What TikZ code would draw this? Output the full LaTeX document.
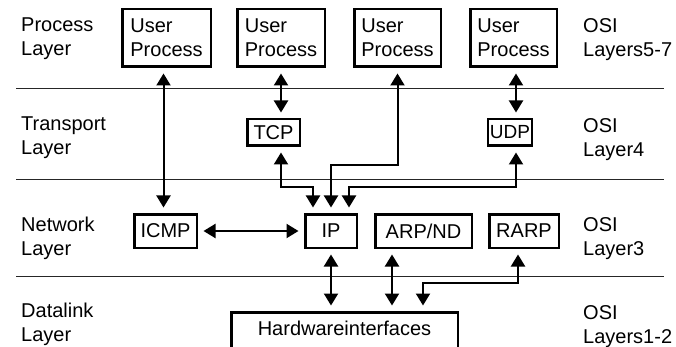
\documentclass[tikz,border=0pt]{standalone}
\usepackage{fontspec}
\setmainfont{Liberation Sans}
\usetikzlibrary{arrows.meta,calc}
\tikzset{
  box/.style={draw, line width=2.5pt, inner sep=0pt, align=left},
  con/.style={line width=2pt, {Triangle[length=12pt,width=14pt]}-{Triangle[length=12pt,width=14pt]}, shorten <=5.5pt, shorten >=5.5pt},
  sepline/.style={line width=1pt, black!85},
  lbl/.style={anchor=north west, inner sep=0pt, align=left},
}
\begin{document}
\begin{tikzpicture}[x=1pt,y=-1pt, font=\fontsize{20}{24}\selectfont]
\useasboundingbox (0,0) rectangle (676,347);
\clip (0,0) rectangle (676,347);
\fill[white] (0,0) rectangle (676,347);
% separators
\coordinate (s1a) at (16,89);  \coordinate (s1b) at (664,89);
\coordinate (s2a) at (16,180); \coordinate (s2b) at (664,180);
\coordinate (s3a) at (16,276); \coordinate (s3b) at (664,276);
\draw[sepline] (s1a) -- (s1b);
\draw[sepline] (s2a) -- (s2b);
\draw[sepline] (s3a) -- (s3b);
% labels
\node[lbl] (lp) at (21,18) {Process\\Layer};
\node[lbl] (lt) at (21,117) {Transport\\Layer};
\node[lbl] (ln) at (21,217) {Network\\Layer};
\node[lbl] (ld) at (21,303) {Datalink\\Layer};
\node[lbl] (r1) at (583,18) {OSI\\Layers5-7};
\node[lbl] (r2) at (583,118) {OSI\\Layer4};
\node[lbl] (r3) at (583,217) {OSI\\Layer3};
\node[lbl] (r4) at (583,305) {OSI\\Layers1-2};
% boxes
\node[box, minimum width=88.5pt, minimum height=57.5pt] (UP1) at (166.5,38) {User\\Process};
\node[box, minimum width=87.5pt, minimum height=57.5pt] (UP2) at (281,38) {User\\Process};
\node[box, minimum width=86.5pt, minimum height=57.5pt] (UP3) at (397.5,38) {User\\Process};
\node[box, minimum width=86.5pt, minimum height=57.5pt] (UP4) at (513.5,38) {User\\Process};
\node[box, minimum width=52.5pt, minimum height=26.5pt] (TCP) at (273.5,132.5) {TCP};
\node[box, minimum width=44pt, minimum height=26.5pt, font=\fontsize{19}{22}\selectfont] (UDP) at (510,132.5) {UDP};
\node[box, minimum width=62.5pt, minimum height=33.5pt] (ICMP) at (165.5,231) {ICMP};
\node[box, minimum width=51.5pt, minimum height=33.5pt] (IP) at (331,231) {IP};
\node[box, minimum width=96.5pt, minimum height=33.5pt] (ARP) at (423.5,231) {ARP/ND};
\node[box, minimum width=69.5pt, minimum height=33.5pt] (RARP) at (524,231) {RARP};
\node[box, anchor=north, minimum width=226.5pt, inner ysep=8.5pt, text height=15pt, text depth=40pt] (hw) at (344.5,311) {Hardwareinterfaces};
% helper rows
\coordinate (h1) at (0,165);
\coordinate (h2) at (0,187);
\coordinate (h3) at (0,283);
% connectors
\draw[con] ($(UP1.south)+(-3,0)$) -- ($(UP1.south |- ICMP.north)+(-3,0)$);
\draw[con] (UP2.south) -- (UP2.south |- TCP.north);
\draw[con] ($(UP4.south)+(2.5,0)$) -- ($(UP4.south |- UDP.north)+(2.5,0)$);
\draw[con] (UP3.south) -- (UP3.south |- h1) -| (IP.north);
\draw[con] (UP2.south |- TCP.south) -- (UP2.south |- h2) -| ($(IP.north)+(-18,0)$);
\draw[con] ($(UDP.south)+(6,0)$) -- ($(UDP.south |- h2)+(6,0)$) -| ($(IP.north)+(18,0)$);
\draw[con] (ICMP.east) -- (IP.west);
\draw[con] (IP.south) -- (IP.south |- hw.north);
\draw[con] ($(ARP.south)+(-31.5,0)$) -- ($(ARP.south |- hw.north)+(-31.5,0)$);
\draw[con] ($(RARP.south)+(-6,0)$) -- ($(RARP.south |- h3)+(-6,0)$) -| ($(hw.north)+(78.5,0)$);
\end{tikzpicture}
\end{document}
